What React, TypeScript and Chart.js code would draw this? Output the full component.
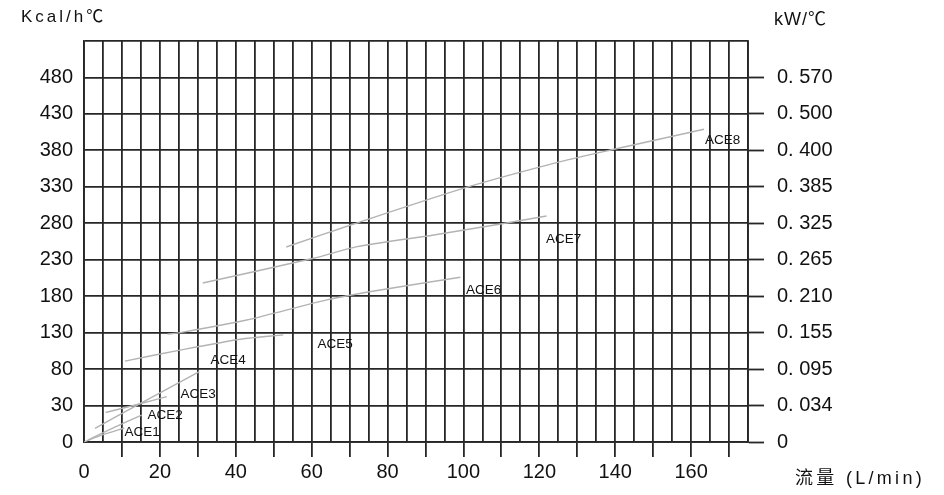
import React, { useEffect, useRef } from 'react';
import { Chart, registerables } from 'chart.js';

Chart.register(...registerables);

// ---- tick labels ----
const yLeftLabels = ['0', '30', '80', '130', '180', '230', '280', '330', '380', '430', '480'];
const yRightLabels = ['0', '0. 034', '0. 095', '0. 155', '0. 210', '0. 265', '0. 325', '0. 385', '0. 400', '0. 500', '0. 570'];
const xTickLabels = [0, 20, 40, 60, 80, 100, 120, 140, 160];

// ---- series (flow L/min, capacity Kcal/h℃) ----
const seriesNames = ['ACE1', 'ACE2', 'ACE3', 'ACE4', 'ACE5', 'ACE6', 'ACE7', 'ACE8'];
const ace1Flow = [0, 5, 10.6];
const ace1Kcal = [0, 6, 11.5];
const ace2Flow = [1, 8, 15.2];
const ace2Kcal = [1.6, 12, 22.2];
const ace3Flow = [5.7, 13, 21.8];
const ace3Kcal = [24.3, 30, 42.2];
const ace4Flow = [2.9, 13.8, 30.4];
const ace4Kcal = [11.3, 30, 76.5];
const ace5Flow = [10.8, 25.3, 41.2, 52.5];
const ace5Kcal = [91, 106, 121, 127];
const ace6Flow = [22, 25.3, 42.9, 64, 78.1, 99.2];
const ace6Kcal = [128, 130, 147.4, 175, 188.5, 206];
const ace7Flow = [31.3, 60.5, 72, 92.2, 109.8, 121.9];
const ace7Kcal = [198, 232, 248, 264, 279, 290];
const ace8Flow = [53.3, 71.1, 101, 125.6, 139.7, 163.4];
const ace8Kcal = [247.5, 279, 329.5, 364.5, 381.5, 409];

// label anchors (flow, Kcal/h℃)
const labelFlow = [15.3, 21.4, 30.1, 38, 66.2, 105.3, 126.4, 168.3];
const labelKcal = [8.2, 22.2, 45.8, 92.5, 114.5, 188.5, 258.5, 394];

const flows = [ace1Flow, ace2Flow, ace3Flow, ace4Flow, ace5Flow, ace6Flow, ace7Flow, ace8Flow];
const kcals = [ace1Kcal, ace2Kcal, ace3Kcal, ace4Kcal, ace5Kcal, ace6Kcal, ace7Kcal, ace8Kcal];

const kcalSteps = yLeftLabels.map(Number);
function kcalToRow(k: number): number {
  for (let i = 1; i < kcalSteps.length; i++) {
    if (k <= kcalSteps[i]) {
      return i - 1 + (k - kcalSteps[i - 1]) / (kcalSteps[i] - kcalSteps[i - 1]);
    }
  }
  const last = kcalSteps.length - 1;
  return last + (k - kcalSteps[last]) / 50;
}

const GRID = '#262626';
const FONT = '"Liberation Sans", Arial, "Noto Sans CJK SC", sans-serif';

const curveLabelPlugin = {
  id: 'curveLabels',
  afterDatasetsDraw(chart: any) {
    const { ctx } = chart;
    const x = chart.scales.x;
    const y = chart.scales.y;
    ctx.save();
    ctx.font = '13.5px ' + FONT;
    ctx.fillStyle = '#111';
    ctx.textAlign = 'center';
    ctx.textBaseline = 'middle';
    seriesNames.forEach((n, i) => {
      ctx.fillText(n, x.getPixelForValue(labelFlow[i]), y.getPixelForValue(kcalToRow(labelKcal[i])));
    });
    ctx.restore();
  },
};

export default function App() {
  const ref = useRef<HTMLCanvasElement | null>(null);
  useEffect(() => {
    if (!ref.current) return;
    const chart = new Chart(ref.current, {
      type: 'line',
      data: {
        datasets: seriesNames.map((name, i) => ({
          label: name,
          data: flows[i].map((f, j) => ({ x: f, y: kcalToRow(kcals[i][j]) })),
          borderColor: '#b3b3b3',
          borderWidth: 1.4,
          pointRadius: 0,
          tension: 0.25,
          fill: false,
          xAxisID: 'x',
          yAxisID: 'y',
        })),
      },
      options: {
        animation: false,
        responsive: true,
        maintainAspectRatio: false,
        layout: { padding: { top: 41, left: 0, right: 0, bottom: 0 } },
        plugins: { legend: { display: false }, tooltip: { enabled: false } },
        scales: {
          x: {
            type: 'linear',
            position: 'bottom',
            min: 0,
            max: 175,
            afterFit: (s: any) => { s.height = 53; },
            ticks: {
              stepSize: 5,
              autoSkip: false,
              maxRotation: 0,
              padding: 3,
              color: '#111',
              font: { family: FONT, size: 20 },
              callback: (v: any) => (xTickLabels.includes(Number(v)) ? String(v) : ''),
            },
            grid: {
              color: GRID,
              lineWidth: 1.8,
              drawTicks: true,
              tickLength: 15,
              tickWidth: 1.8,
              tickColor: (ctx: any) => {
                const v = ctx.tick ? ctx.tick.value : 0;
                return v > 0 && v % 10 === 0 ? GRID : 'rgba(0,0,0,0)';
              },
            },
            border: { display: true, color: GRID, width: 1.8 },
          },
          y: {
            type: 'linear',
            position: 'left',
            min: 0,
            max: 11,
            afterFit: (s: any) => { s.width = 84; },
            ticks: {
              stepSize: 1,
              autoSkip: false,
              padding: 11,
              color: '#111',
              font: { family: FONT, size: 20 },
              callback: (v: any) => yLeftLabels[Number(v)] ?? '',
            },
            grid: { color: GRID, lineWidth: 1.8, drawTicks: false },
            border: { display: true, color: GRID, width: 1.8 },
          },
          y2: {
            type: 'linear',
            position: 'right',
            min: 0,
            max: 11,
            afterFit: (s: any) => { s.width = 196; },
            ticks: {
              stepSize: 1,
              autoSkip: false,
              padding: 13,
              color: '#111',
              font: { family: FONT, size: 20 },
              callback: (v: any) => yRightLabels[Number(v)] ?? '',
            },
            grid: {
              drawOnChartArea: false,
              drawTicks: true,
              tickLength: 16,
              tickWidth: 1.8,
              tickColor: (ctx: any) => {
                const v = ctx.tick ? ctx.tick.value : 0;
                return v <= 10 ? GRID : 'rgba(0,0,0,0)';
              },
            },
            border: { display: true, color: GRID, width: 1.8 },
          },
        },
      } as any,
      plugins: [curveLabelPlugin],
    });
    return () => chart.destroy();
  }, []);

  const textStyle: React.CSSProperties = {
    position: 'absolute',
    fontFamily: FONT,
    color: '#111',
    whiteSpace: 'nowrap',
    lineHeight: 1,
  };

  return (
    <div style={{ position: 'absolute', left: 0, top: 0, width: 944, height: 495, background: '#fff', overflow: 'hidden' }}>
      <canvas ref={ref} />
      <div style={{ ...textStyle, left: 21, top: 8, fontSize: 17, letterSpacing: '3px' }}>Kcal/h℃</div>
      <div style={{ ...textStyle, left: 774, top: 10, fontSize: 18, letterSpacing: '1px' }}>kW/℃</div>
      <div style={{ ...textStyle, left: 795, top: 469, fontSize: 18, letterSpacing: '3.3px' }}>流量 (L/min)</div>
    </div>
  );
}
